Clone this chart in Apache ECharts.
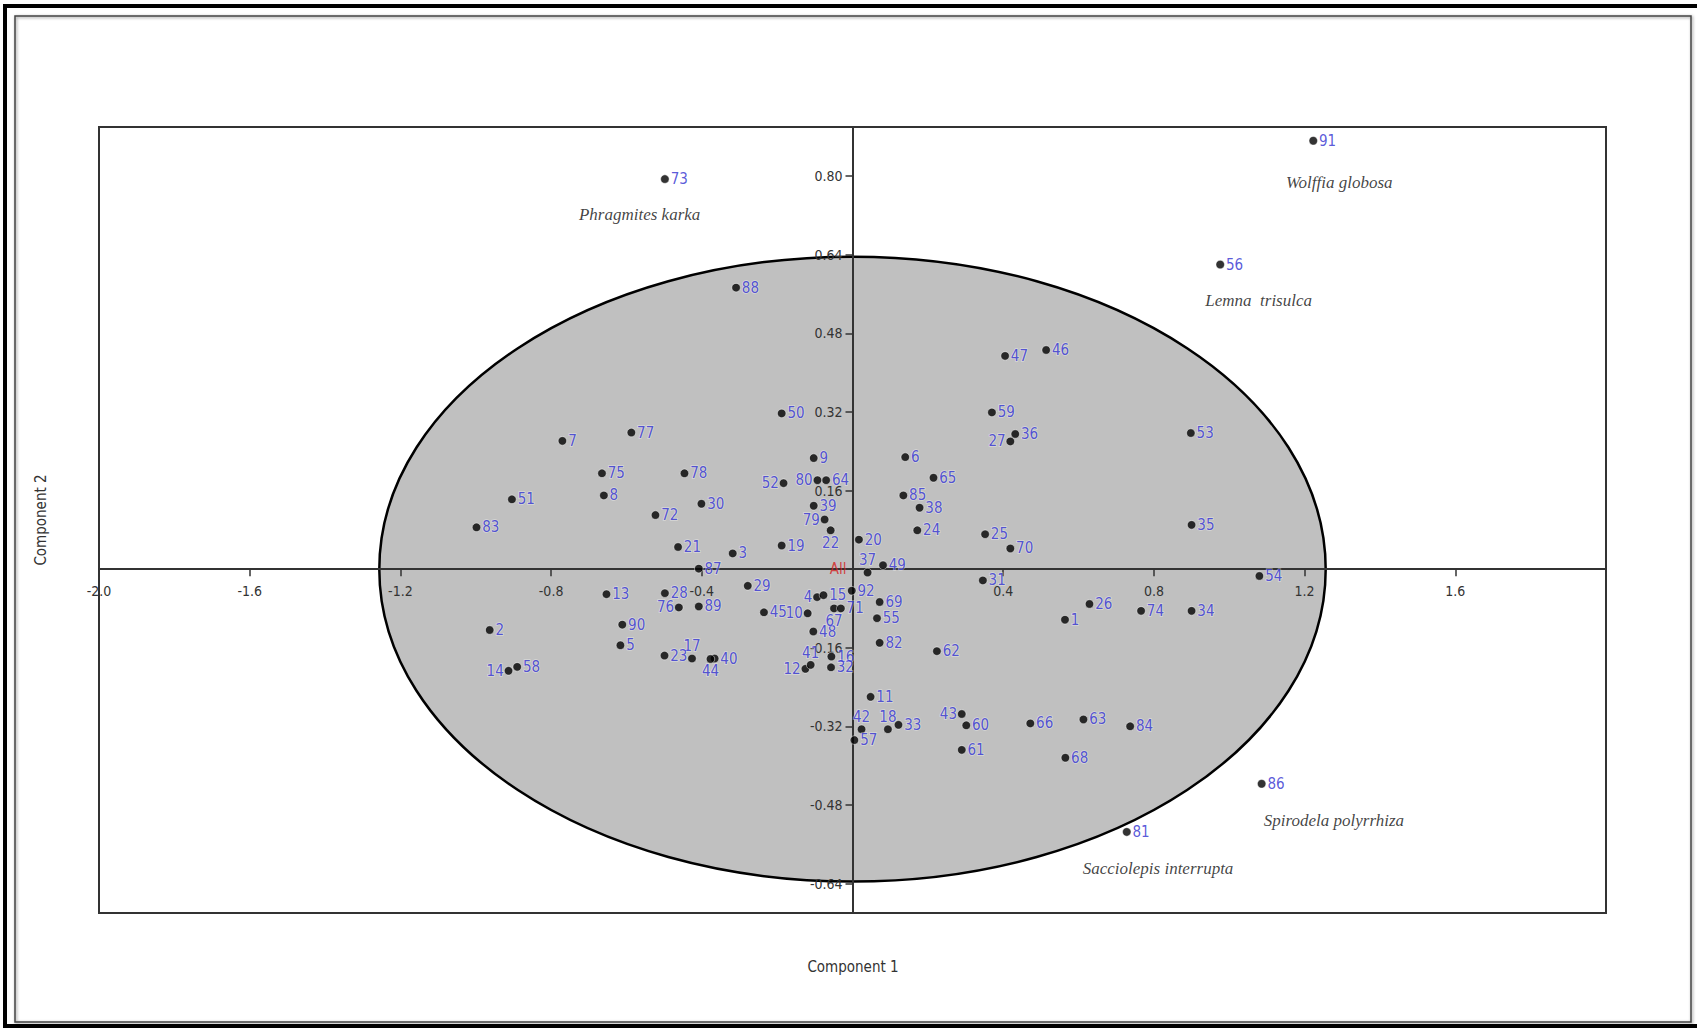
<!DOCTYPE html>
<html><head><meta charset="utf-8">
<script src="https://cdn.jsdelivr.net/npm/echarts@6/dist/echarts.min.js"></script>
<style>html,body{margin:0;padding:0;background:#fff;overflow:hidden}#c{width:1697px;height:1029px}</style>
</head><body><div id="c"></div>
<script>
// ---- data ----
const pointLabels = [1,2,3,4,5,6,7,8,9,10,11,12,13,14,15,16,17,18,19,20,21,22,23,24,25,26,27,28,29,30,
  31,32,33,34,35,36,37,38,39,40,41,42,43,44,45,46,47,48,49,50,51,52,53,54,55,56,57,58,59,60,
  61,62,63,64,65,66,67,68,69,70,71,72,73,74,75,76,77,78,79,80,81,82,83,84,85,86,87,88,89,90,91,92];
const component1 = [
  0.564, -0.963, -0.318, -0.094, -0.616, 0.140, -0.770, -0.660, -0.103, -0.119,
  0.048, -0.125, -0.653, -0.913, -0.077, -0.056, -0.426, 0.094, -0.188, 0.017,
  -0.463, -0.058, -0.499, 0.172, 0.352, 0.629, 0.419, -0.498, -0.278, -0.401,
  0.346, -0.057, 0.122, 0.900, 0.900, 0.432, 0.040, 0.178, -0.103, -0.366,
  -0.111, 0.024, 0.290, -0.377, -0.235, 0.514, 0.405, -0.104, 0.081, -0.188,
  -0.904, -0.183, 0.898, 1.080, 0.065, 0.976, 0.005, -0.890, 0.370, 0.302,
  0.290, 0.224, 0.613, -0.070, 0.215, 0.472, -0.049, 0.565, 0.072, 0.419,
  -0.031, -0.523, -0.498, 0.766, -0.665, -0.461, -0.587, -0.446, -0.074, -0.093,
  0.728, 0.072, -0.998, 0.737, 0.135, 1.086, -0.408, -0.309, -0.408, -0.611,
  1.223, -0.002];
const component2 = [
  -0.103, -0.124, 0.032, -0.057, -0.155, 0.228, 0.261, 0.150, 0.226, -0.090,
  -0.260, -0.203, -0.051, -0.207, -0.053, -0.178, -0.182, -0.326, 0.048, 0.060,
  0.045, 0.079, -0.176, 0.079, 0.071, -0.071, 0.260, -0.049, -0.034, 0.133,
  -0.023, -0.200, -0.317, -0.085, 0.090, 0.275, -0.007, 0.125, 0.129, -0.182,
  -0.195, -0.326, -0.295, -0.183, -0.088, 0.446, 0.434, -0.127, 0.008, 0.317,
  0.142, 0.175, 0.277, -0.014, -0.100, 0.620, -0.348, -0.199, 0.319, -0.318,
  -0.368, -0.167, -0.306, 0.181, 0.186, -0.314, -0.080, -0.384, -0.067, 0.042,
  -0.080, 0.110, 0.794, -0.085, 0.195, -0.078, 0.278, 0.195, 0.101, 0.181,
  -0.535, -0.150, 0.085, -0.320, 0.150, -0.437, 0.001, 0.573, -0.076, -0.113,
  0.872, -0.044];
const speciesNames = ['Phragmites karka', 'Wolffia globosa', 'Lemna  trisulca', 'Spirodela polyrrhiza', 'Sacciolepis interrupta'];
const speciesX = [-0.565, 1.292, 1.078, 1.278, 0.811];
const speciesY = [0.722, 0.787, 0.547, -0.511, -0.609];
const originName = 'All';
const ellipseCenter = [0, 0];
const ellipseRadii = [1.256, 0.636];
const xRange = [-2, 2];
const yRange = [-0.7, 0.9];
const xTickValues = [-2.0, -1.6, -1.2, -0.8, -0.4, 0.4, 0.8, 1.2, 1.6];
const xTickLabels = ['-2.0', '-1.6', '-1.2', '-0.8', '-0.4', '0.4', '0.8', '1.2', '1.6'];
const yTickValues = [-0.64, -0.48, -0.32, -0.16, 0.16, 0.32, 0.48, 0.64, 0.80];
const yTickLabels = ['-0.64', '-0.48', '-0.32', '-0.16', '0.16', '0.32', '0.48', '0.64', '0.80'];
const xTitle = 'Component 1';
const yTitle = 'Component 2';

// ---- layout / style ----
const GRID = {left: 99, top: 127, width: 1507, height: 786};
const labelPlacement = {
  left: [4, 10, 12, 14, 27, 43, 52, 76, 79, 80],
  top: [37, 18],
  topLeft: [41, 42, 17],
  bottomLeft: [22, 67],
  bottom: [44],
  level: [85, 15, 64, 39, 40, 28, 16],
  high: [48]
};
const placementStyle = {
  left: {position: 'left', distance: 0, offset: [0, 1]},
  top: {position: 'top', distance: 0, offset: [-1, 2.5]},
  topLeft: {position: 'top', distance: 0, offset: [-6, 2.5]},
  bottomLeft: {position: 'bottom', distance: 0, offset: [-7, -2]},
  bottom: {position: 'bottom', distance: 0, offset: [8, -2]},
  level: {position: 'right', distance: 1, offset: [0, 1]},
  high: {position: 'right', distance: 1, offset: [0, 4]}
};
function labelFor(id) {
  for (const k in labelPlacement) {
    if (labelPlacement[k].indexOf(id) >= 0) return placementStyle[k];
  }
  return null;
}
function tickText(values, labels) {
  return function (v) {
    for (let i = 0; i < values.length; i++) if (Math.abs(values[i] - v) < 1e-6) return labels[i];
    return '';
  };
}
// axes cross at zero: shift each axis from its grid edge to the zero line
const xAxisOffset = -((0 - yRange[0]) / (yRange[1] - yRange[0])) * GRID.height;
const yAxisOffset = -((0 - xRange[0]) / (xRange[1] - xRange[0])) * GRID.width;

const FONT = '"Liberation Sans Narrow", "DejaVu Sans Condensed", "Open Sans", sans-serif';
const chart = echarts.init(document.getElementById('c'), null, {renderer: 'svg', width: 1697, height: 1029});

const scatterData = pointLabels.map((id, i) => {
  const d = {value: [component1[i], component2[i]], name: String(id)};
  const l = labelFor(id);
  if (l) d.label = l;
  return d;
});

chart.setOption({
  backgroundColor: '#ffffff',
  animation: false,
  grid: Object.assign({show: true, borderColor: '#333', borderWidth: 2, backgroundColor: 'transparent',
         containLabel: false, outerBoundsMode: 'none'}, GRID),
  xAxis: {
    type: 'value', min: xRange[0], max: xRange[1], z: 5, position: 'bottom', offset: xAxisOffset,
    axisLine: {onZero: false, lineStyle: {color: '#333', width: 2}},
    axisTick: {show: true, customValues: xTickValues, length: 7, lineStyle: {color: '#333', width: 1.5}},
    axisLabel: {customValues: xTickValues, formatter: tickText(xTickValues, xTickLabels), margin: 15,
                color: '#333', fontSize: 14, fontFamily: FONT},
    splitLine: {show: false}
  },
  yAxis: {
    type: 'value', min: yRange[0], max: yRange[1], z: 5, position: 'left', offset: yAxisOffset,
    axisLine: {onZero: false, lineStyle: {color: '#333', width: 2}},
    axisTick: {show: true, customValues: yTickValues, length: 7, lineStyle: {color: '#333', width: 1.5}},
    axisLabel: {customValues: yTickValues, formatter: tickText(yTickValues, yTickLabels), margin: 10,
                color: '#333', fontSize: 14, fontFamily: FONT},
    splitLine: {show: false}
  },
  graphic: [
    {type: 'rect', silent: true, z: -10, shape: {x: 5, y: 6, width: 1700, height: 1020},
     style: {fill: 'none', stroke: '#000', lineWidth: 4}},
    {type: 'rect', silent: true, z: -10, shape: {x: 15, y: 16, width: 1676, height: 1006},
     style: {fill: 'none', stroke: '#444', lineWidth: 1.5, shadowBlur: 3, shadowColor: 'rgba(0,0,0,0.45)', shadowOffsetX: 1, shadowOffsetY: 1}},
    {type: 'text', silent: true, x: 853, y: 967,
     style: {text: xTitle, fill: '#333', fontSize: 15, fontFamily: FONT, align: 'center', verticalAlign: 'middle'}},
    {type: 'text', silent: true, x: 41, y: 520, rotation: Math.PI / 2,
     style: {text: yTitle, fill: '#333', fontSize: 15, fontFamily: FONT, align: 'center', verticalAlign: 'middle'}}
  ],
  series: [
    {
      type: 'custom', z: 1, silent: true, clip: false,
      data: [[ellipseCenter[0], ellipseCenter[1], ellipseRadii[0], ellipseRadii[1]]],
      renderItem: function (params, api) {
        const c = api.coord([api.value(0), api.value(1)]);
        const e = api.coord([api.value(0) + api.value(2), api.value(1) + api.value(3)]);
        return {type: 'ellipse', shape: {cx: c[0], cy: c[1], rx: Math.abs(e[0] - c[0]), ry: Math.abs(e[1] - c[1])},
                style: {fill: '#c0c0c0', stroke: '#000', lineWidth: 2.5}};
      }
    },
    {
      type: 'scatter', z: 10, symbol: 'circle', symbolSize: 8.5, silent: true,
      itemStyle: {color: '#000', borderColor: 'rgba(255,255,255,0.6)', borderWidth: 1},
      label: {show: true, formatter: '{b}', position: 'right', distance: 1, offset: [0, 7],
              color: '#2f2fcf', fontSize: 15, fontFamily: FONT,
              textBorderColor: 'rgba(255,255,255,0.5)', textBorderWidth: 1.5},
      labelLayout: {hideOverlap: false},
      data: scatterData
    },
    {
      type: 'scatter', z: 11, symbolSize: 0, silent: true,
      label: {show: true, formatter: originName, position: 'left', distance: 6, color: '#d42020', fontSize: 15, fontFamily: FONT},
      data: [[0, 0]]
    },
    {
      type: 'scatter', z: 11, symbolSize: 0, silent: true,
      label: {show: true, formatter: '{b}', position: 'inside', color: '#111', fontSize: 17,
              fontStyle: 'italic', fontFamily: '"Liberation Serif", "DejaVu Serif", serif'},
      data: speciesNames.map((n, i) => ({value: [speciesX[i], speciesY[i]], name: n}))
    }
  ]
});
</script>
</body></html>
